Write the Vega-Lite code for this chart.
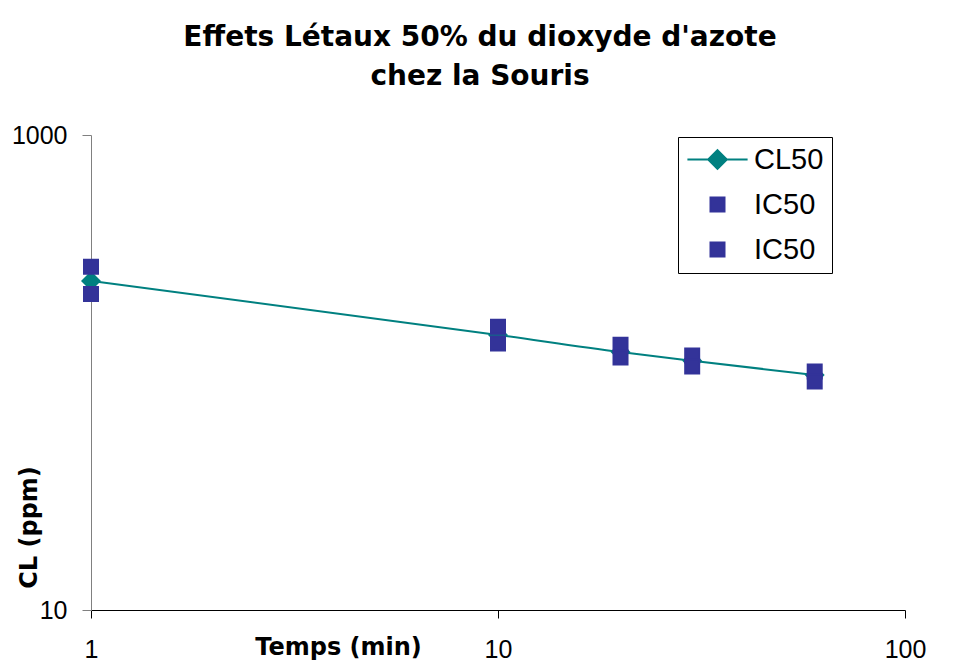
{
  "$schema": "https://vega.github.io/schema/vega-lite/v6.json",
  "autosize": {"type": "none"},
  "width": 814,
  "height": 475,
  "padding": {"left": 91, "top": 135, "right": 54, "bottom": 62},
  "background": "white",
  "title": {
    "text": ["Effets Létaux 50% du dioxyde d'azote", "chez la Souris"],
    "font": "DejaVu Sans",
    "fontSize": 28,
    "fontWeight": "bold",
    "color": "black",
    "anchor": "middle",
    "baseline": "bottom",
    "lineHeight": 39,
    "offset": 4,
    "dx": -18
  },
  "data": {
    "values": [
      {"t": 1, "serie": "CL50", "v": 243},
      {"t": 10, "serie": "CL50", "v": 144},
      {"t": 20, "serie": "CL50", "v": 122},
      {"t": 30, "serie": "CL50", "v": 112},
      {"t": 60, "serie": "CL50", "v": 97.6},
      {"t": 1, "serie": "IC50a", "v": 279},
      {"t": 10, "serie": "IC50a", "v": 156},
      {"t": 20, "serie": "IC50a", "v": 131},
      {"t": 30, "serie": "IC50a", "v": 118},
      {"t": 60, "serie": "IC50a", "v": 101},
      {"t": 1, "serie": "IC50b", "v": 214},
      {"t": 10, "serie": "IC50b", "v": 132.5},
      {"t": 20, "serie": "IC50b", "v": 115.6},
      {"t": 30, "serie": "IC50b", "v": 106},
      {"t": 60, "serie": "IC50b", "v": 91.6}
    ]
  },
  "encoding": {
    "x": {
      "field": "t",
      "type": "quantitative",
      "scale": {"type": "log", "domain": [1, 100], "nice": false},
      "axis": {
        "values": [1, 10, 100],
        "format": "d",
        "grid": false,
        "domainColor": "black",
        "domainWidth": 1,
        "tickColor": "black",
        "tickSize": 8,
        "labelFont": "Liberation Sans",
        "labelFontSize": 25,
        "labelColor": "black",
        "labelBaseline": "middle",
        "labelPadding": 31,
        "labelFlush": false,
        "title": "Temps (min)",
        "titleFont": "DejaVu Sans",
        "titleFontSize": 24,
        "titleFontWeight": "bold",
        "titleColor": "black",
        "titleX": 247,
        "titleY": 37,
        "titleAlign": "center",
        "titleBaseline": "middle"
      }
    },
    "y": {
      "field": "v",
      "type": "quantitative",
      "scale": {"type": "log", "domain": [10, 1000], "nice": false},
      "axis": {
        "values": [10, 1000],
        "format": "d",
        "grid": false,
        "domainColor": "#808080",
        "domainWidth": 1,
        "tickColor": "#808080",
        "tickSize": 9,
        "labelFont": "Liberation Sans",
        "labelFontSize": 25,
        "labelColor": "black",
        "labelBaseline": "middle",
        "labelPadding": 15,
        "title": "CL (ppm)",
        "titleFont": "DejaVu Sans",
        "titleFontSize": 24,
        "titleFontWeight": "bold",
        "titleColor": "black",
        "titleAngle": 270,
        "titleX": -62,
        "titleY": 392,
        "titleAlign": "center",
        "titleBaseline": "middle"
      }
    }
  },
  "layer": [
    {
      "transform": [{"filter": "datum.serie === 'CL50'"}],
      "mark": {"type": "line", "color": "#008080", "strokeWidth": 2, "interpolate": "monotone"},
      "encoding": {}
    },
    {
      "transform": [{"filter": "datum.serie === 'CL50'"}],
      "mark": {"type": "point", "filled": true, "opacity": 1, "shape": "diamond", "size": 400, "color": "#008080"},
      "encoding": {}
    },
    {
      "transform": [{"filter": "datum.serie !== 'CL50'"}],
      "mark": {"type": "point", "filled": true, "opacity": 1, "size": 196, "strokeWidth": 2},
      "encoding": {
        "color": {
          "field": "serie",
          "type": "nominal",
          "scale": {"domain": ["CL50", "IC50a", "IC50b"], "range": ["#008080", "#333399", "#333399"]},
          "legend": {
            "title": null,
            "orient": "none",
            "legendX": 587,
            "legendY": 2,
            "strokeColor": "black",
            "fillColor": "white",
            "padding": 8,
            "labelFont": "Liberation Sans",
            "labelFontSize": 29,
            "labelColor": "black",
            "labelBaseline": "middle",
            "symbolSize": 196,
            "symbolStrokeWidth": 2,
            "symbolOffset": 17,
            "labelOffset": 22,
            "rowPadding": 15,
            "labelExpr": "datum.value == 'CL50' ? 'CL50' : 'IC50'"
          }
        },
        "stroke": {
          "field": "serie",
          "type": "nominal",
          "scale": {"domain": ["CL50", "IC50a", "IC50b"], "range": ["#008080", "#333399", "#333399"]}
        },
        "shape": {
          "field": "serie",
          "type": "nominal",
          "scale": {"domain": ["CL50", "IC50a", "IC50b"], "range": ["M-4.3,0L4.3,0M0,-1.33L1.33,0L0,1.33L-1.33,0Z", "square", "square"]}
        }
      }
    }
  ],
  "config": {
    "view": {"stroke": null}
  }
}
